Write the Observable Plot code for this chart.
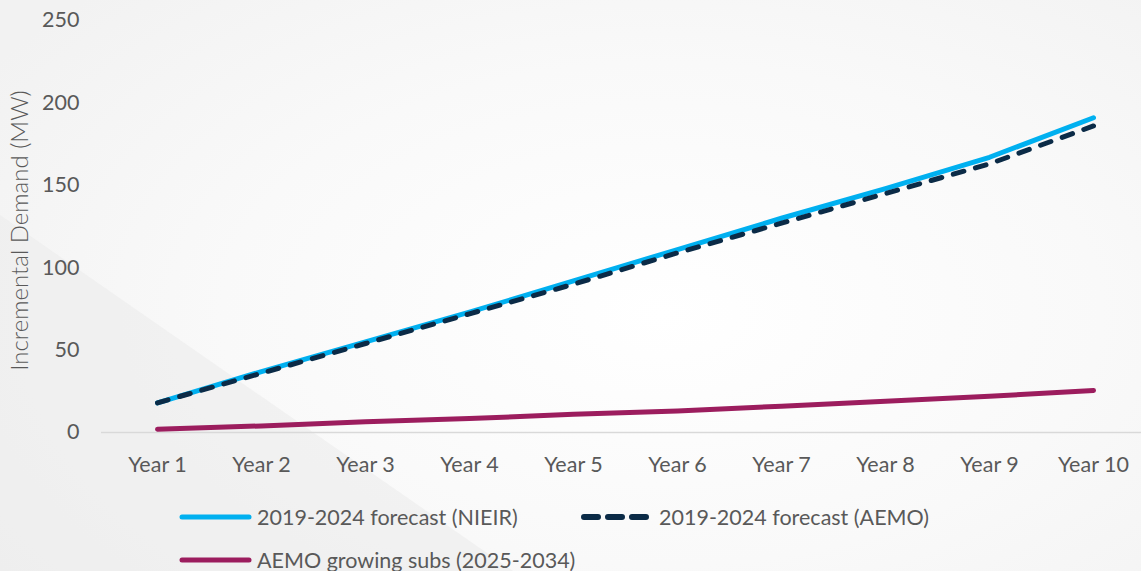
<!DOCTYPE html>
<html><head><meta charset="utf-8">
<script src="https://cdn.jsdelivr.net/npm/d3@7"></script>
<script src="https://cdn.jsdelivr.net/npm/@observablehq/plot@0.6"></script>
<style>
html,body{margin:0;padding:0;width:1141px;height:571px;overflow:hidden;}
body{position:relative;background:radial-gradient(ellipse 70% 80% at 58% 55%, #ffffff 0%, #f9f9f9 55%, #f2f2f2 100%);font-family:Lato,"Open Sans",sans-serif;}
#tri{position:absolute;left:0;top:0;width:1141px;height:571px;background:#ebebeb;clip-path:polygon(0 215px,513px 571px,0 571px);opacity:.55}
#chart{position:absolute;left:0;top:0}
.leg{position:absolute;font-size:21.5px;color:#595959;display:flex;align-items:center;white-space:nowrap;height:26px}
.leg svg{margin-right:5px}
</style></head>
<body>
<div id="tri"></div>
<div id="chart"></div>
<div class="leg" style="left:179px;top:504px"><svg width="73" height="10"><line x1="3" y1="5" x2="70" y2="5" stroke="#00b0f0" stroke-width="5" stroke-linecap="round"/></svg><span>2019-2024 forecast (NIEIR)</span></div>
<div class="leg" style="left:581px;top:504px"><svg width="73" height="10"><line x1="3" y1="5" x2="70" y2="5" stroke="#0b2b47" stroke-width="6" stroke-linecap="round" stroke-dasharray="14,10"/></svg><span>2019-2024 forecast (AEMO)</span></div>
<div class="leg" style="left:179px;top:547px"><svg width="73" height="10"><line x1="3" y1="5" x2="70" y2="5" stroke="#9c1d5e" stroke-width="5" stroke-linecap="round"/></svg><span>AEMO growing subs (2025-2034)</span></div>
<script>
const years = ["Year 1","Year 2","Year 3","Year 4","Year 5","Year 6","Year 7","Year 8","Year 9","Year 10"];
const nieir = [18, 37, 55, 73, 92, 111, 130, 148, 167, 191];
const aemo = [18, 36, 54, 72, 90, 109, 127, 145, 163, 186];
const growing = [2, 4, 6.5, 8.5, 11, 13, 16, 19, 22, 25.5];
const yTicks = [0, 50, 100, 150, 200, 250];
const yLabel = "Incremental Demand (MW)";

const rows = (vals) => years.map((y, i) => ({year: y, value: vals[i]}));

const chart = Plot.plot({
  width: 1141, height: 480,
  marginLeft: 101, marginRight: 0, marginTop: 20, marginBottom: 48,
  style: {background: "transparent", fontFamily: "Lato, 'Open Sans', sans-serif", color: "#595959"},
  x: {type: "point", domain: years, range: [153, 1097], padding: 0},
  y: {domain: [0, 250]},
  marks: [
    Plot.axisY({ticks: yTicks, tickSize: 0, tickPadding: 22, fontSize: 21.5, label: null}),
    Plot.text([yLabel], {frameAnchor: "left", textAnchor: "middle", rotate: -90, dx: -81, dy: 4, fontSize: 24, fontWeight: 300, fill: "#595959"}),
    Plot.axisX({tickSize: 0, tickPadding: 24, fontSize: 21.5, label: null}),
    Plot.ruleY([0], {stroke: "#d9d9d9", strokeWidth: 1.5}),
    Plot.line(rows(growing), {x: "year", y: "value", stroke: "#9c1d5e", strokeWidth: 5, strokeLinecap: "round"}),
    Plot.line(rows(nieir), {x: "year", y: "value", stroke: "#00b0f0", strokeWidth: 5, strokeLinecap: "round"}),
    Plot.line(rows(aemo), {x: "year", y: "value", stroke: "#0b2b47", strokeWidth: 5, strokeLinecap: "round", strokeDasharray: "11,12"})
  ]
});
document.getElementById("chart").append(chart);
</script>
</body></html>
